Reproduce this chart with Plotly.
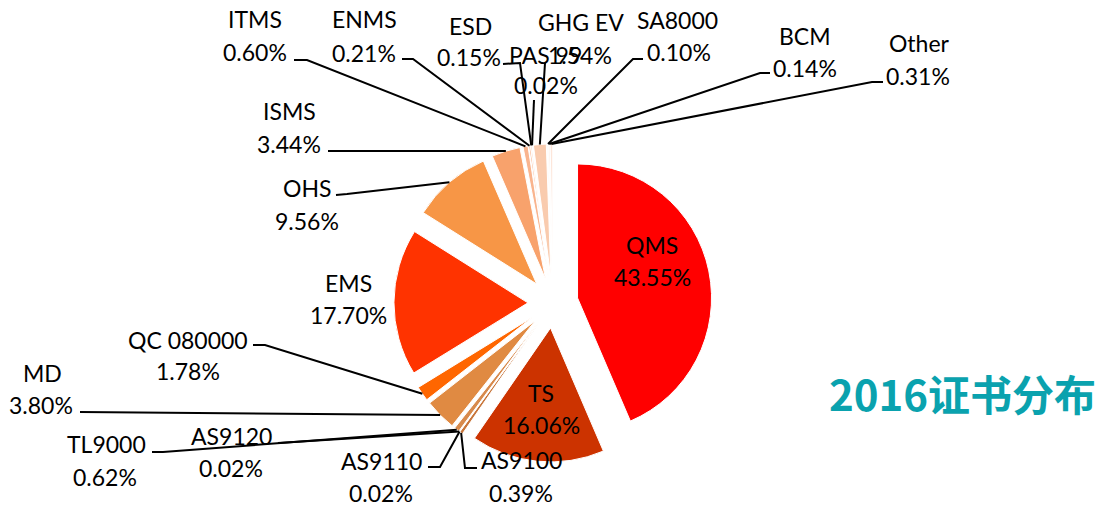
import math
import plotly.graph_objects as go

# ---------------- data ----------------
categories = ["QMS", "TS", "AS9100", "AS9110", "AS9120", "TL9000", "MD", "QC 080000",
              "EMS", "OHS", "ISMS", "ITMS", "ENMS", "ESD", "PAS 99", "GHG EV",
              "SA8000", "BCM", "Other"]
shares = [43.55, 16.06, 0.39, 0.02, 0.02, 0.62, 3.80, 1.78,
          17.70, 9.56, 3.44, 0.60, 0.21, 0.15, 0.02, 1.54,
          0.10, 0.14, 0.31]
title_text = "2016证书分布"

# ---------------- style ----------------
colors = ["#FF0000", "#CC3300", "#C8753A", "#D4894E", "#D4894E", "#D88A4C", "#E08A42", "#FF6600",
          "#FF3300", "#F79646", "#F8A26C", "#F9B48E", "#FABF9E", "#FAC2A2", "#FAC6A8", "#F9CBAE",
          "#FBD6C0", "#FCDDCB", "#FDE6DA"]

W, H = 1107, 509
CX, CY, R_PIE, PULL = 553, 303, 134, 0.187
FONT = "Lato, 'Open Sans', sans-serif"
FS = 23

# label placement (pixels): name centre, value centre
label_pos = {
    "QMS": (652, 245, 652, 277),
    "TS": (541, 393, 541, 425),
    "AS9100": (521, 460, 521, 493),
    "AS9110": (381, 461, 381, 493),
    "AS9120": (231, 436, 231, 468),
    "TL9000": (106, 444, 105, 477),
    "MD": (42, 373, 41, 405),
    "QC 080000": (188, 340, 188, 371),
    "EMS": (348, 283, 348, 315),
    "OHS": (307, 188, 307, 221),
    "ISMS": (289, 111, 289, 144),
    "ITMS": (255, 19, 255, 52),
    "ENMS": (364, 19, 364, 53),
    "ESD": (470, 26, 469, 57),
    "PAS 99": (545, 55, 546, 85),
    "GHG EV": (581, 22, 580, 55),
    "SA8000": (677, 20, 679, 52),
    "BCM": (805, 36, 805, 68),
    "Other": (919, 43, 918, 76),
}
# leader elbow points (pixels) on the label side; the line ends on the slice
leader_pts = {
    "AS9100": [(477, 468), (465, 468)],
    "AS9110": [(428, 467), (440, 467)],
    "AS9120": [(278, 443)],
    "TL9000": [(152, 452), (163, 452)],
    "MD": [(80, 412)],
    "QC 080000": [(253, 345), (265, 345)],
    "OHS": [(336, 195), (347, 194)],
    "ISMS": [(328, 151)],
    "ITMS": [(294, 60), (307, 60)],
    "ENMS": [(402, 59), (413, 59)],
    "ESD": [(503, 64), (520, 63)],
    "PAS 99": [(534, 100)],
    "GHG EV": [(545, 63)],
    "SA8000": [(643, 59), (633, 59)],
    "BCM": [(770, 73), (760, 73)],
    "Other": [(883, 82), (872, 82)],
}


def px(x):
    return x / W


def py(y):
    return 1 - y / H


RB = R_PIE * (1 + PULL)
fig = go.Figure(go.Pie(
    labels=categories,
    values=shares,
    sort=False,
    direction="clockwise",
    rotation=0,
    pull=[PULL] * len(shares),
    marker=dict(colors=colors, line=dict(color="white", width=1)),
    textinfo="none",
    hoverinfo="label+percent",
    showlegend=False,
    domain=dict(x=[px(CX - RB), px(CX + RB)], y=[py(CY + RB), py(CY - RB)]),
))

total = sum(shares)
annotations = []
shapes = []
cum = 0.0
for name, v in zip(categories, shares):
    mid = (cum + v / 2) / total
    cum += v
    th = 2 * math.pi * mid
    ax = CX + RB * math.sin(th)
    ay = CY - RB * math.cos(th)
    nx, ny, vx, vy = label_pos[name]
    annotations.append(dict(x=px(nx), y=py(ny), xref="paper", yref="paper", text=name,
                            showarrow=False, xanchor="center", yanchor="middle",
                            font=dict(family=FONT, size=FS, color="black")))
    annotations.append(dict(x=px(vx), y=py(vy), xref="paper", yref="paper", text=f"{v:.2f}%",
                            showarrow=False, xanchor="center", yanchor="middle",
                            font=dict(family=FONT, size=FS, color="black")))
    if name in leader_pts:
        pts = leader_pts[name] + [(ax, ay)]
        path = "M " + " L ".join(f"{px(x):.5f},{py(y):.5f}" for x, y in pts)
        shapes.append(dict(type="path", path=path, xref="paper", yref="paper",
                           line=dict(color="black", width=2), layer="above"))

annotations.append(dict(x=px(962), y=py(392), xref="paper", yref="paper", text=f"<b>{title_text}</b>",
                        showarrow=False, xanchor="center", yanchor="middle",
                        font=dict(family="'Noto Sans CJK SC', sans-serif", size=42, color="#0AA2AE")))

fig.update_layout(
    width=W, height=H,
    margin=dict(l=0, r=0, t=0, b=0),
    paper_bgcolor="white", plot_bgcolor="white",
    annotations=annotations,
    shapes=shapes,
)
fig.write_html("out.html", config={"displayModeBar": False},
               post_script="document.body.style.margin='0';document.body.style.overflow='hidden';")
